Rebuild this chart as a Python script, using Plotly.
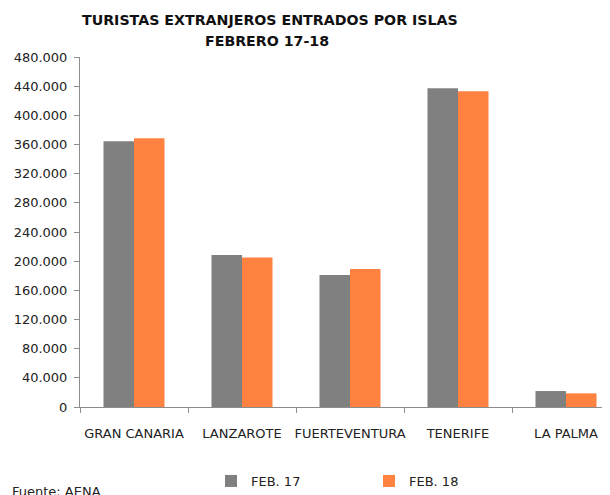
import plotly.graph_objects as go

islas = ["GRAN CANARIA", "LANZAROTE", "FUERTEVENTURA", "TENERIFE", "LA PALMA"]
feb17 = [364500, 208400, 181000, 437000, 21900]
feb18 = [368600, 205200, 189200, 433200, 18700]
y_ticks = [0, 40000, 80000, 120000, 160000, 200000, 240000, 280000,
           320000, 360000, 400000, 440000, 480000]

# page has an 8px body margin: figure drawn at (8, 8)
OFF = 8
W, H = 610 - OFF, 495 - OFF
L, R, T, B = 80 - OFF, 0, 57 - OFF, 495 - 407
PH = 350
PW = W - L

fig = go.Figure()
fig.add_bar(name="FEB. 17", x=islas, y=feb17, marker=dict(color="#808080", line=dict(width=0)))
fig.add_bar(name="FEB. 18", x=islas, y=feb18, marker=dict(color="#FF8241", line=dict(width=0)))

font_main = "DejaVu Sans, Verdana, sans-serif"

fig.update_layout(
    width=W, height=H,
    margin=dict(l=L, r=R, t=T, b=B, pad=0, autoexpand=False),
    paper_bgcolor="white", plot_bgcolor="white",
    separators=",.",
    barmode="group", bargap=0.435, bargroupgap=0,
    font=dict(family=font_main, size=13, color="#222222"),
    showlegend=True,
    legend=dict(orientation="h", xref="container", yref="container",
                x=(211 - OFF) / W, y=1 - (481 - OFF) / H, xanchor="left", yanchor="middle",
                entrywidth=113, entrywidthmode="pixels",
                font=dict(size=13, color="#222222"), traceorder="normal"),
)

def px_x(x):
    return (x - OFF - L) / PW

def px_y(y):
    return (407 - y) / PH

fig.add_annotation(text="<b>TURISTAS EXTRANJEROS ENTRADOS POR ISLAS</b>", xref="paper", yref="paper",
                   x=px_x(270), y=px_y(20), showarrow=False,
                   xanchor="center", yanchor="middle",
                   font=dict(family=font_main, size=14.2, color="#111111"))
fig.add_annotation(text="<b>FEBRERO 17-18</b>", xref="paper", yref="paper",
                   x=px_x(267), y=px_y(41), showarrow=False,
                   xanchor="center", yanchor="middle",
                   font=dict(family=font_main, size=14.2, color="#111111"))
fig.add_annotation(text="Fuente: AENA", xref="paper", yref="paper",
                   x=px_x(10), y=px_y(491), showarrow=False,
                   xanchor="left", yanchor="middle",
                   font=dict(family=font_main, size=13, color="#222222"))

fig.update_xaxes(
    type="category", range=[-0.5, -0.5 + PW / 108.0],
    showline=True, linecolor="#8c8c8c", linewidth=1,
    ticks="outside", tickson="boundaries", ticklen=5, tickcolor="#8c8c8c",
    showgrid=False, zeroline=False, ticklabelstandoff=14, tickangle=0,
    automargin=False,
)
fig.update_yaxes(
    range=[0, 480000], tickvals=y_ticks, tickformat=",d",
    showline=True, linecolor="#8c8c8c", linewidth=1,
    ticks="outside", ticklen=5, tickcolor="#8c8c8c",
    showgrid=False, zeroline=False, ticklabelstandoff=4,
    automargin=False,
)

fig.write_html("out.html")
